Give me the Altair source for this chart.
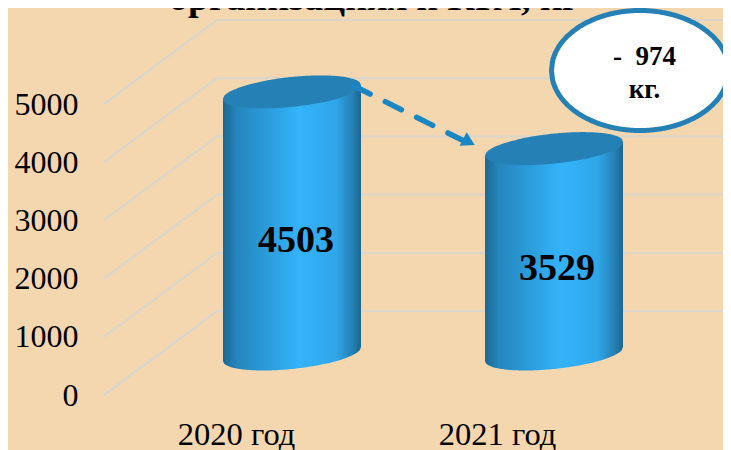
import altair as alt
import numpy as np
import pandas as pd

categories = ["2020 год", "2021 год"]
values = [4503, 3529]
ticks = [0, 1000, 2000, 3000, 4000, 5000]
diff_label = ["-\u00a0\u00a0974", "кг."]
title_text = "организациях и КРА, кг"

# layout helpers: px -> data units (reference picture geometry)
PX_PER_VAL = 0.0582
PX_PER_CAT = 261.0
def xu(px): return (px - 236) / PX_PER_CAT
def yu(py): return (395 - py) / PX_PER_VAL

BG = "#f4d7af"
GRID = "#dcd6ca"
TOP = "#2581b5"
x_scale = alt.Scale(domain=[xu(84), xu(723)], nice=False, zero=False)
y_scale = alt.Scale(domain=[yu(412), yu(8)], nice=False, zero=False)
x_axis = alt.Axis(
    values=[0, 1], title=None, domain=False, ticks=False, grid=False,
    labelExpr=f"datum.value==0?'{categories[0]}':'{categories[1]}'",
    labelFont="Liberation Serif", labelFontSize=32.5, labelColor="#000000",
    labelPadding=6, labelOverlap=False, labelFlush=False)
y_axis = alt.Axis(
    values=ticks, title=None, domain=False, ticks=False, grid=False, format="d",
    labelFont="Liberation Serif", labelFontSize=32, labelColor="#000000",
    labelPadding=6, labelBaseline="middle")
X = lambda f: alt.X(f, type="quantitative", scale=x_scale, axis=x_axis)
Y = lambda f: alt.Y(f, type="quantitative", scale=y_scale, axis=y_axis)

# gridlines (front corner, back corner, right end)
rows = []
for v in ticks:
    rows += [dict(v=v, o=0, x=xu(104), y=v),
             dict(v=v, o=1, x=xu(217), y=v + 84 / PX_PER_VAL),
             dict(v=v, o=2, x=xu(723), y=v + 84 / PX_PER_VAL)]
grid = alt.Chart(pd.DataFrame(rows)).mark_line(color=GRID, strokeWidth=2.2).encode(
    x=X("x"), y=Y("y"), detail="v:N", order="o:Q")

grad = alt.Gradient(gradient="linear", x1=0, x2=1, y1=0, y2=0, stops=[
    alt.GradientStop(offset=0, color="#1b6793"),
    alt.GradientStop(offset=0.1, color="#2686bc"),
    alt.GradientStop(offset=0.3, color="#2a9ad8"),
    alt.GradientStop(offset=0.55, color="#34b3fb"),
    alt.GradientStop(offset=0.82, color="#2fa6e8"),
    alt.GradientStop(offset=0.94, color="#2580b3"),
    alt.GradientStop(offset=1, color="#1b6590")])

centers = [292, 554]
A = 69; SHEAR = 0.1; B = 15
base_py = 354
layers = [grid]
for cx, val in zip(centers, values):
    px = np.linspace(cx - A, cx + A, 121)
    t = (px - cx) / A
    arc = B * np.sqrt(np.clip(1 - t * t, 0, 1))
    tilt = -SHEAR * (px - cx)
    top_py = base_py - val * PX_PER_VAL
    body = pd.DataFrame(dict(x=xu(px), y=yu(top_py + tilt), y2=yu(base_py + tilt + arc)))
    cap = pd.DataFrame(dict(x=xu(px), y=yu(top_py + tilt - arc), y2=yu(top_py + tilt + arc)))
    layers.append(alt.Chart(body).mark_area(color=grad, interpolate="monotone").encode(
        x=X("x"), y=Y("y"), y2="y2:Q"))
    layers.append(alt.Chart(cap).mark_area(color=TOP, interpolate="monotone").encode(
        x=X("x"), y=Y("y"), y2="y2:Q"))

# value labels
lab = pd.DataFrame(dict(x=xu(np.array([296, 557])), y=yu(np.array([241, 269])),
                        t=[str(v) for v in values]))
layers.append(alt.Chart(lab).mark_text(font="Liberation Serif", fontWeight="bold",
                                       fontSize=38, color="#000000").encode(
    x=X("x"), y=Y("y"), text="t:N"))

# dashed arrow
arrow = pd.DataFrame(dict(x=[xu(354), xu(466)], y=[yu(86), yu(142)]))
layers.append(alt.Chart(arrow).mark_line(color="#1b86c4", strokeWidth=5.5, strokeDash=[18, 17],
                                         strokeCap="round").encode(x=X("x"), y=Y("y")))
head = pd.DataFrame(dict(x=[xu(467)], y=[yu(141)]))
layers.append(alt.Chart(head).mark_point(shape="triangle", filled=True, color="#1b86c4",
                                         opacity=1, size=230, angle=118).encode(x=X("x"), y=Y("y")))

# callout ellipse
ell_px = np.linspace(-1, 1, 161)
ell_x = 640 + 88.5 * ell_px
ell_h = 60 * np.sqrt(np.clip(1 - ell_px ** 2, 0, 1))
ell = pd.DataFrame(dict(x=xu(ell_x), y=yu(70.5 - ell_h), y2=yu(70.5 + ell_h)))
layers.append(alt.Chart(ell).mark_area(color="#ffffff", interpolate="monotone",
                                       stroke=TOP, strokeWidth=5).encode(
    x=X("x"), y=Y("y"), y2="y2:Q"))
txt = pd.DataFrame(dict(x=[xu(644.5), xu(644.5)], y=[yu(57), yu(90)], t=diff_label))
layers.append(alt.Chart(txt).mark_text(
    font="Liberation Serif", fontWeight="bold", fontSize=27,
    color="#000000").encode(x=X("x"), y=Y("y"), text="t:N"))

# title (cut off at the top of the picture)
tt = pd.DataFrame(dict(x=[xu(374)], y=[yu(10)], t=[title_text]))
layers.append(alt.Chart(tt).mark_text(font="Liberation Serif", fontWeight="bold", fontSize=38,
                                      baseline="alphabetic", color="#000000").encode(
    x=X("x"), y=Y("y"), text="t:N"))

chart = alt.layer(*layers).properties(
    width=639, height=404, background=BG,
    padding={"left": 76, "top": 0, "right": 0, "bottom": 38},
    autosize=alt.AutoSizeParams(type="none"),
).configure_view(stroke=None)
chart.save("out.html", embed_options={"renderer": "svg", "actions": False})
